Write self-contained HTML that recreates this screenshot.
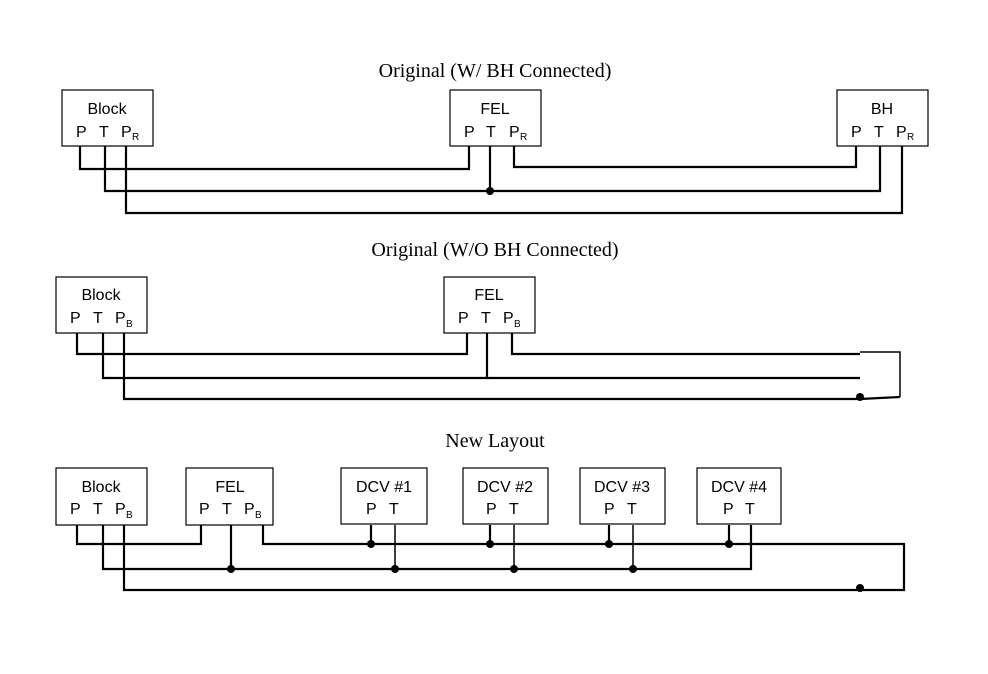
<!DOCTYPE html>
<html><head><meta charset="utf-8"><style>
html,body{margin:0;padding:0;background:#fff;}
svg{display:block;}
.t{font-family:"Liberation Serif",serif;font-size:20px;fill:#000;}
.l{font-family:"Liberation Sans",sans-serif;font-size:16px;fill:#000;}
.s{font-family:"Liberation Sans",sans-serif;font-size:10px;fill:#000;}
rect{fill:#fff;stroke:#000;stroke-width:1.2;}
.w{fill:none;stroke:#000;stroke-width:2.2;}
.n{fill:none;stroke:#000;stroke-width:1.5;}
</style></head><body>
<svg width="988" height="674" viewBox="0 0 988 674" xmlns="http://www.w3.org/2000/svg">
<text class="t" x="495" y="77" text-anchor="middle">Original (W/ BH Connected)</text>
<text class="t" x="495" y="256" text-anchor="middle">Original (W/O BH Connected)</text>
<text class="t" x="495" y="447" text-anchor="middle">New Layout</text>

<!-- Section 1 -->
<path class="w" d="M80 146V169H469V146"/>
<path class="w" d="M105 146V191H880V146"/>
<path class="w" d="M490 146V191"/>
<path class="w" d="M126 146V213H902V146"/>
<path class="w" d="M514 146V167H856V146"/>
<circle cx="490" cy="191" r="4"/>
<rect x="62" y="90" width="91" height="56"/><text class="l" x="107" y="114" text-anchor="middle">Block</text>
<text class="l" x="76" y="137">P</text><text class="l" x="99" y="137">T</text><text class="l" x="121" y="137">P</text><text class="s" x="132" y="140">R</text>
<rect x="450" y="90" width="91" height="56"/><text class="l" x="495" y="114" text-anchor="middle">FEL</text>
<text class="l" x="464" y="137">P</text><text class="l" x="486" y="137">T</text><text class="l" x="509" y="137">P</text><text class="s" x="520" y="140">R</text>
<rect x="837" y="90" width="91" height="56"/><text class="l" x="882" y="114" text-anchor="middle">BH</text>
<text class="l" x="851" y="137">P</text><text class="l" x="874" y="137">T</text><text class="l" x="896" y="137">P</text><text class="s" x="907" y="140">R</text>

<!-- Section 2 -->
<path class="w" d="M77 333V354H467V333"/>
<path class="w" d="M103 333V378H860"/>
<path class="w" d="M487 333V378"/>
<path class="w" d="M124 333V399H860L900 397"/>
<path class="w" d="M512 333V354H860"/>
<path class="n" d="M860 352H900V397"/>
<circle cx="860" cy="397" r="4"/>
<rect x="56" y="277" width="91" height="56"/><text class="l" x="101" y="300" text-anchor="middle">Block</text>
<text class="l" x="70" y="323">P</text><text class="l" x="93" y="323">T</text><text class="l" x="115" y="323">P</text><text class="s" x="126" y="327">B</text>
<rect x="444" y="277" width="91" height="56"/><text class="l" x="489" y="300" text-anchor="middle">FEL</text>
<text class="l" x="458" y="323">P</text><text class="l" x="481" y="323">T</text><text class="l" x="503" y="323">P</text><text class="s" x="514" y="327">B</text>

<!-- Section 3 -->
<path class="w" d="M77 525V544H201V525"/>
<path class="w" d="M103 525V569H751V525"/>
<path class="w" d="M231 525V569"/>
<path class="w" d="M263 525V544H904V590H124V525"/>
<path class="w" d="M371 525V544M490 525V544M609 525V544M729 525V544"/>
<path class="n" d="M395 525V569M514 525V569M633 525V569"/>
<circle cx="231" cy="569" r="4"/>
<circle cx="371" cy="544" r="4"/><circle cx="490" cy="544" r="4"/><circle cx="609" cy="544" r="4"/><circle cx="729" cy="544" r="4"/>
<circle cx="395" cy="569" r="4"/><circle cx="514" cy="569" r="4"/><circle cx="633" cy="569" r="4"/>
<circle cx="860" cy="588" r="4"/>
<rect x="56" y="468" width="91" height="57"/><text class="l" x="101" y="492" text-anchor="middle">Block</text>
<text class="l" x="70" y="514">P</text><text class="l" x="93" y="514">T</text><text class="l" x="115" y="514">P</text><text class="s" x="126" y="518">B</text>
<rect x="186" y="468" width="87" height="57"/><text class="l" x="230" y="492" text-anchor="middle">FEL</text>
<text class="l" x="199" y="514">P</text><text class="l" x="222" y="514">T</text><text class="l" x="244" y="514">P</text><text class="s" x="255" y="518">B</text>
<rect x="341" y="468" width="86" height="56"/><text class="l" x="384" y="492" text-anchor="middle">DCV #1</text>
<text class="l" x="366" y="514">P</text><text class="l" x="389" y="514">T</text>
<rect x="463" y="468" width="85" height="56"/><text class="l" x="505" y="492" text-anchor="middle">DCV #2</text>
<text class="l" x="486" y="514">P</text><text class="l" x="509" y="514">T</text>
<rect x="580" y="468" width="85" height="56"/><text class="l" x="622" y="492" text-anchor="middle">DCV #3</text>
<text class="l" x="604" y="514">P</text><text class="l" x="627" y="514">T</text>
<rect x="697" y="468" width="84" height="56"/><text class="l" x="739" y="492" text-anchor="middle">DCV #4</text>
<text class="l" x="723" y="514">P</text><text class="l" x="745" y="514">T</text>
</svg>
</body></html>
